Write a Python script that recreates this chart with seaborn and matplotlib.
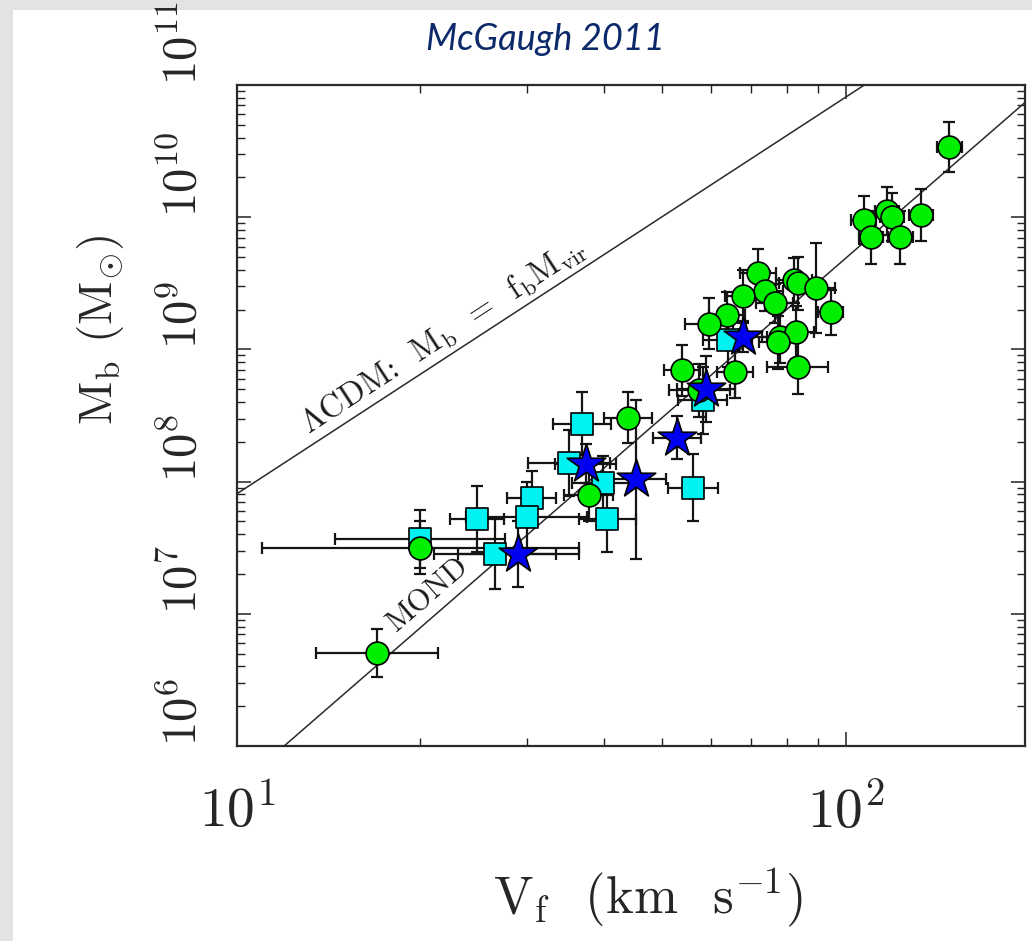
import numpy as np
import pandas as pd
import matplotlib
matplotlib.use("Agg")
import matplotlib.pyplot as plt
import seaborn as sns
from matplotlib.patches import Rectangle
from matplotlib.ticker import LogLocator, NullFormatter

# ---------------------------------------------------------------
# Baryonic Tully-Fisher relation (gas-rich galaxies)
# V in km/s, M in solar masses, errors in dex
# ---------------------------------------------------------------
green_v = [148, 107, 117, 119, 110, 123, 133, 71.8, 82.2, 83.4, 89.5, 73.6,
           67.8, 76.4, 94.4, 63.8, 59.6, 78.0, 82.8, 77.3, 53.8, 65.8, 83.4,
           43.9, 37.8, 20.0, 17.0, 57.5]
green_m = [3.39e10, 9.48e9, 1.11e10, 1.00e10, 7.05e9, 7.05e9, 1.04e10, 3.77e9,
           3.33e9, 3.16e9, 2.90e9, 2.75e9, 2.52e9, 2.23e9, 1.91e9, 1.81e9,
           1.57e9, 1.25e9, 1.35e9, 1.13e9, 6.93e8, 6.70e8, 7.31e8, 3.05e8,
           7.94e7, 3.16e7, 5.07e6, 4.89e8]
green_ev = [0.02, 0.02, 0.02, 0.02, 0.02, 0.02, 0.02, 0.03, 0.03, 0.03, 0.03,
            0.03, 0.03, 0.03, 0.02, 0.03, 0.04, 0.03, 0.03, 0.03, 0.03, 0.03,
            0.05, 0.04, 0.04, 0.26, 0.10, 0.05]
green_em = [0.19, 0.18, 0.18, 0.18, 0.20, 0.20, 0.20, 0.18, 0.17, 0.20, 0.34,
            0.15, 0.20, 0.15, 0.17, 0.18, 0.19, 0.20, 0.20, 0.20, 0.19, 0.19,
            0.20, 0.19, 0.20, 0.20, 0.18, 0.20]

cyan_v = [36.9, 35.1, 39.9, 30.5, 29.9, 40.6, 26.5, 56.1, 24.8, 20.0, 64.0, 58.2]
cyan_m = [2.75e8, 1.39e8, 9.82e7, 7.57e7, 5.43e7, 5.25e7, 2.85e7, 9.02e7,
          5.25e7, 3.70e7, 1.17e9, 4.11e8]
cyan_ev = [0.048, 0.068, 0.05, 0.04, 0.10, 0.047, 0.10, 0.041, 0.044, 0.14, 0.04, 0.04]
cyan_em = [0.24, 0.25, 0.20, 0.20, 0.26, 0.25, 0.27, 0.25, 0.25, 0.22, 0.20, 0.25]

star_v = [67.8, 58.9, 52.8, 45.2, 37.4, 29.0]
star_m = [1.25e9, 4.98e8, 2.15e8, 1.04e8, 1.37e8, 2.85e7]
star_ev = [0.04, 0.048, 0.04, 0.05, 0.05, 0.10]
star_em = [0.12, 0.25, 0.16, 0.60, 0.15, 0.25]

# Model relations  M = A * V**n
mond_norm, mond_slope = 49.0, 4
lcdm_norm, lcdm_slope = 8.1e4, 3

x_range = [10, 197]
y_range = [1e6, 1e11]
x_ticks = [10, 100]
x_tick_labels = [r"$10^{1}$", r"$10^{2}$"]
y_ticks = [1e6, 1e7, 1e8, 1e9, 1e10, 1e11]
y_tick_labels = [r"$10^{6}$", r"$10^{7}$", r"$10^{8}$", r"$10^{9}$",
                 r"$10^{10}$", r"$10^{11}$"]

sns.set_theme(style="ticks")
plt.rcParams.update({
    "font.family": "cmr10",
    "mathtext.fontset": "cm",
    "axes.formatter.use_mathtext": True,
    "axes.unicode_minus": False,
})

fig = plt.figure(figsize=(10.32, 9.41), dpi=100)
fig.patch.set_facecolor("white")
# light stone border along the top and left edges
fig.patches.append(Rectangle((0, 1 - 10 / 941), 1, 10 / 941, transform=fig.transFigure,
                             facecolor="#e3e3e1", edgecolor="none", zorder=-5))
fig.patches.append(Rectangle((0, 0), 13 / 1032, 1, transform=fig.transFigure,
                             facecolor="#e3e3e1", edgecolor="none", zorder=-5))

ax = fig.add_axes([237 / 1032, 195 / 941, 788 / 1032, 661 / 941])
ax.set_xscale("log")
ax.set_yscale("log")
ax.set_xlim(*x_range)
ax.set_ylim(*y_range)


def dex_err(vals, dex):
    vals = np.asarray(vals, float)
    dex = np.asarray(dex, float)
    return np.vstack([vals * (1 - 10 ** -dex), vals * (10 ** dex - 1)])


groups = [
    (cyan_v, cyan_m, cyan_ev, cyan_em, "s", 250, "#00f2f2", 3),
    (green_v, green_m, green_ev, green_em, "o", 270, "#00ee00", 4),
    (star_v, star_m, star_ev, star_em, "*", 850, "#0000f0", 5),
]

# error bars first, markers on top
for v, m, ev, em, *_ in groups:
    ax.errorbar(v, m, xerr=dex_err(v, ev), yerr=dex_err(m, em), fmt="none",
                ecolor="#151515", elinewidth=1.6, capsize=4, capthick=1.6, zorder=2)

for v, m, ev, em, mk, size, col, z in groups:
    df = pd.DataFrame({"V": v, "M": m})
    sns.scatterplot(data=df, x="V", y="M", marker=mk, s=size, color=col,
                    edgecolor="black", linewidth=1.2, zorder=z, ax=ax, legend=False)

# model lines
vv = np.array(x_range, float)
ax.plot(vv, mond_norm * vv ** mond_slope, color="#2a2a2a", lw=1.1, zorder=1)
ax.plot(vv, lcdm_norm * vv ** lcdm_slope, color="#2a2a2a", lw=1.1, zorder=1)


def screen_angle(norm, slope):
    pts = ax.transData.transform([(vv[0], norm * vv[0] ** slope),
                                  (vv[1], norm * vv[1] ** slope)])
    d = pts[1] - pts[0]
    return np.degrees(np.arctan2(d[1], d[0]))


ax.text(21.8, 1.27e9, r"$\Lambda$CDM:  M$_{\rm b}$  =  f$_{\rm b}$M$_{\rm vir}$",
        rotation=screen_angle(lcdm_norm, lcdm_slope), rotation_mode="anchor",
        ha="center", va="center", fontsize=23.5, color="#1a1a1a")
ax.text(20.6, 1.40e7, "MOND",
        rotation=screen_angle(mond_norm, mond_slope), rotation_mode="anchor",
        ha="center", va="center", fontsize=22, color="#1a1a1a")

ax.set_xlabel("")
ax.set_ylabel("")
ax.set_xticks(x_ticks, labels=x_tick_labels)
ax.set_yticks(y_ticks, labels=y_tick_labels)
ax.xaxis.set_minor_locator(LogLocator(base=10, subs=np.arange(2, 10)))
ax.yaxis.set_minor_locator(LogLocator(base=10, subs=np.arange(2, 10), numticks=20))
ax.xaxis.set_minor_formatter(NullFormatter())
ax.yaxis.set_minor_formatter(NullFormatter())
ax.tick_params(which="both", direction="in", top=True, right=True, color="#222222")
ax.tick_params(which="major", length=10, width=1.1)
ax.tick_params(which="minor", length=5.5, width=1.0)
ax.tick_params(axis="x", pad=28, labelsize=40)
ax.tick_params(axis="y", pad=22, labelsize=35, labelrotation=90)
for lbl in ax.get_yticklabels():
    lbl.set_verticalalignment("bottom")
for sp in ax.spines.values():
    sp.set_linewidth(1.6)
    sp.set_color("#2a2a2a")

fig.text(648 / 1032, 1 - 898 / 941, r"V$_{\rm f}$  (km  s$^{-1}$)",
         ha="center", va="center", fontsize=38)
fig.text(100 / 1032, 1 - 330 / 941, r"M$_{\rm b}$ (M$_{\odot}$)", rotation=90,
         ha="center", va="center", fontsize=34)
fig.text(545 / 1032, 1 - 40 / 941, "McGaugh 2011", family="Lato", style="italic",
         color="#0c2a6a", fontsize=26, ha="center", va="center")

fig.savefig("out.png", dpi=100)
